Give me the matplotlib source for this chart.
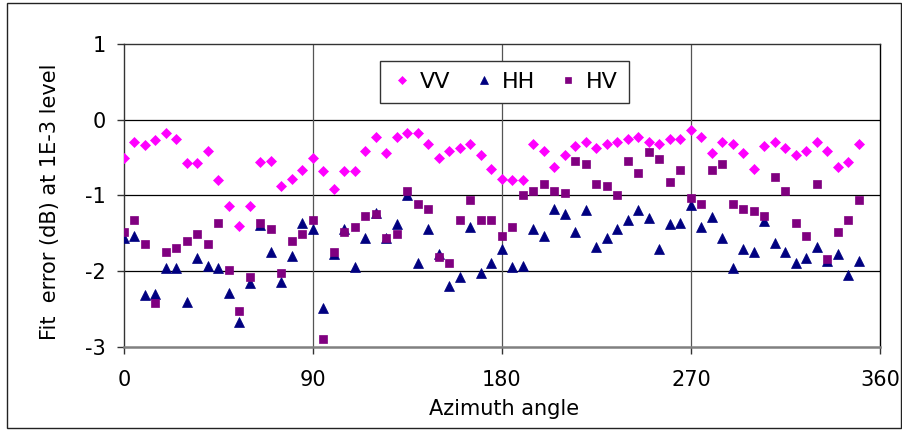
import numpy as np
import matplotlib
matplotlib.use("Agg")
import matplotlib.pyplot as plt
from matplotlib.patches import Rectangle

# Azimuth angles (degrees) and fit errors (dB) for each polarisation
azimuth = np.arange(0, 355, 5)

vv = [-0.50, -0.295, -0.33, -0.27, -0.17, -0.26, -0.57, -0.57, -0.41, -0.80,
      -1.14, -1.40, -1.14, -0.56, -0.54, -0.87, -0.78, -0.66, -0.50, -0.68,
      -0.92, -0.68, -0.68, -0.41, -0.23, -0.44, -0.23, -0.17, -0.17, -0.32,
      -0.50, -0.41, -0.38, -0.32, -0.47, -0.65, -0.78, -0.80, -0.80, -0.32,
      -0.41, -0.63, -0.47, -0.35, -0.30, -0.38, -0.32, -0.30, -0.26, -0.23,
      -0.30, -0.32, -0.26, -0.26, -0.14, -0.23, -0.44, -0.30, -0.32, -0.44,
      -0.65, -0.35, -0.30, -0.38, -0.47, -0.42, -0.30, -0.42, -0.63, -0.56,
      -0.32]

hh = [-1.57, -1.54, -2.32, -2.30, -1.96, -1.96, -2.41, -1.83, -1.93, -1.96,
      -2.29, -2.68, -2.16, -1.39, -1.75, -2.14, -1.80, -1.36, -1.44, -2.49,
      -1.78, -1.44, -1.95, -1.56, -1.23, -1.56, -1.38, -1.00, -1.89, -1.44,
      -1.78, -2.20, -2.08, -1.42, -2.02, -1.90, -1.71, -1.95, -1.93, -1.45,
      -1.54, -1.18, -1.24, -1.48, -1.19, -1.68, -1.56, -1.45, -1.33, -1.20,
      -1.30, -1.71, -1.38, -1.36, -1.13, -1.42, -1.29, -1.56, -1.96, -1.71,
      -1.75, -1.34, -1.63, -1.75, -1.90, -1.83, -1.68, -1.87, -1.78, -2.05,
      -1.87]

hv = [-1.49, -1.33, -1.64, -2.42, -1.75, -1.69, -1.60, -1.51, -1.64, -1.37,
      -1.99, -2.53, -2.08, -1.37, -1.45, -2.02, -1.60, -1.51, -1.33, -2.90,
      -1.75, -1.48, -1.42, -1.27, -1.24, -1.57, -1.51, -0.94, -1.12, -1.18,
      -1.81, -1.90, -1.33, -1.06, -1.33, -1.33, -1.54, -1.42, -1.00, -0.94,
      -0.85, -0.94, -0.97, -0.55, -0.58, -0.85, -0.88, -1.00, -0.55, -0.70,
      -0.43, -0.52, -0.82, -0.67, -1.03, -1.12, -0.67, -0.58, -1.12, -1.18,
      -1.21, -1.27, -0.76, -0.94, -1.36, -1.54, -0.85, -1.84, -1.48, -1.33,
      -1.06]

x_ticks = [0, 90, 180, 270, 360]
y_ticks = [1, 0, -1, -2, -3]

plt.rcParams["font.family"] = ["DejaVu Sans"]
plt.rcParams["axes.unicode_minus"] = False

fig = plt.figure(figsize=(9.03, 4.32), dpi=100)
ax = fig.add_axes([124 / 903, 1 - 346.7 / 432, 756 / 903, (346.7 - 44) / 432])

ax.set_xlim(0, 360)
ax.set_ylim(-3, 1)
ax.set_xticks(x_ticks)
ax.set_yticks(y_ticks)
ax.tick_params(axis="both", direction="out", length=5, width=1, labelsize=15,
               color="#333333")
ax.tick_params(axis="x", pad=12)
ax.tick_params(axis="y", pad=8)

# gridlines: black horizontal, grey vertical
for yv in [0, -1, -2]:
    ax.axhline(yv, color="black", lw=0.9, zorder=1)
for xv in [90, 180, 270]:
    ax.axvline(xv, color="#555555", lw=0.9, zorder=1)

ax.spines["top"].set_color("#333333")
ax.spines["top"].set_linewidth(1.0)
ax.spines["right"].set_color("black")
ax.spines["right"].set_linewidth(1.0)
ax.spines["left"].set_color("#333333")
ax.spines["left"].set_linewidth(1.0)
ax.spines["bottom"].set_color("#808080")
ax.spines["bottom"].set_linewidth(1.8)

ax.plot(azimuth, vv, linestyle="none", marker="D", ms=5.3, color="#FF00FF",
        mec="#FF00FF", mew=0.5, label="VV", zorder=3)
ax.plot(azimuth, hh, linestyle="none", marker="^", ms=7.2, color="#000080",
        mec="#000080", mew=0.5, label="HH", zorder=4)
ax.plot(azimuth, hv, linestyle="none", marker="s", ms=5.6, color="#800080",
        mec="#800080", mew=0.5, label="HV", zorder=5)

leg = ax.legend(loc="center", bbox_to_anchor=(504.5 / 903, 1 - 81.9 / 432),
                bbox_transform=fig.transFigure, ncol=3, fontsize=16,
                frameon=True, fancybox=False, framealpha=1, edgecolor="#333333",
                handlelength=1.0, handletextpad=0.3, columnspacing=1.0,
                borderpad=0.5, markerscale=0.8)
leg.get_frame().set_linewidth(1.0)

fig.text(50 / 903, 1 - 201.5 / 432, "Fit  error (dB) at 1E-3 level",
         rotation=90, ha="center", va="center", fontsize=15)
fig.text(504.5 / 903, 1 - 409 / 432, "Azimuth angle", ha="center",
         va="center", fontsize=15)

# outer chart border
fig.patches.append(Rectangle((7 / 903, 1 - 428 / 432), (901 - 7) / 903,
                             (428 - 3) / 432, transform=fig.transFigure,
                             fill=False, edgecolor="#222222", lw=1.0))

fig.savefig("out.png", dpi=100)
